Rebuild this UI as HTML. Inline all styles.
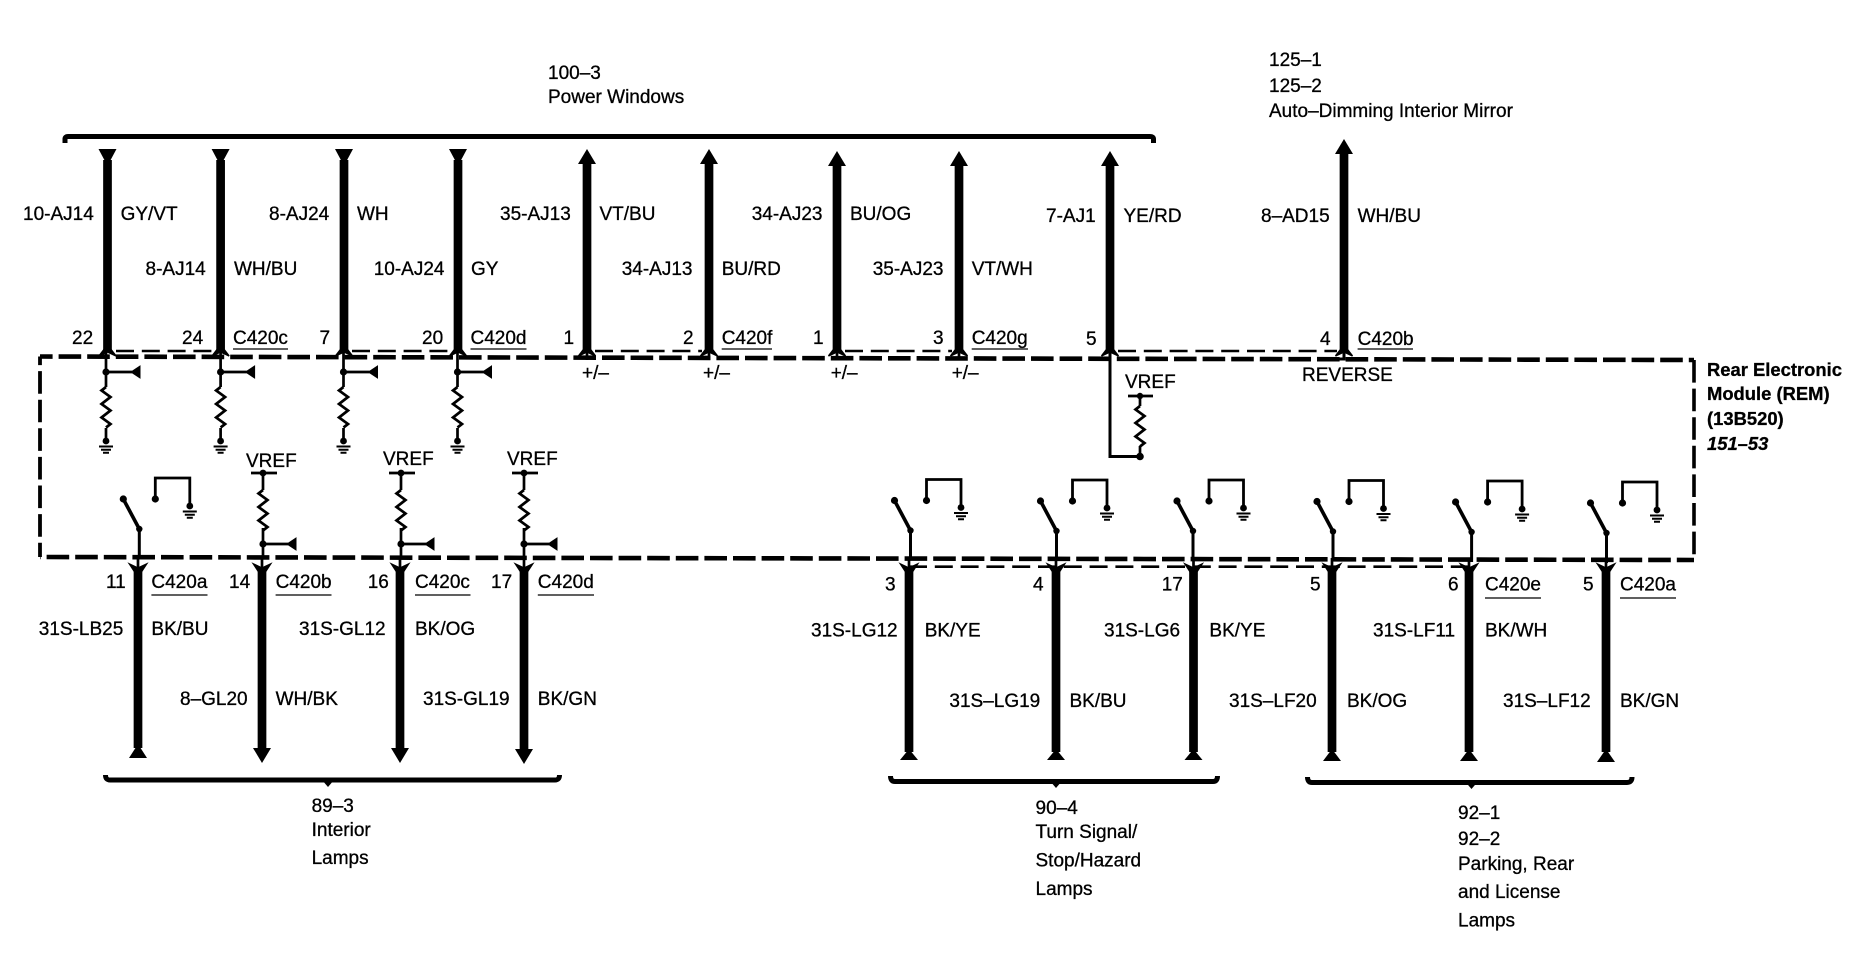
<!DOCTYPE html>
<html>
<head>
<meta charset="utf-8">
<title>Rear Electronic Module wiring diagram</title>
<style>
html,body{margin:0;padding:0;background:#fff}
svg{display:block}
text{font-family:"Liberation Sans",sans-serif;font-size:19px;fill:#000;stroke:#000;stroke-width:.3px}
.b{font-weight:bold;font-size:18.4px}
.bi{font-weight:bold;font-style:italic;font-size:18.4px}
.w{stroke:#000;stroke-width:8.7;fill:none}
.t{stroke:#000;stroke-width:2.7;fill:none}
.u{stroke:#000;stroke-width:1.3;fill:none}
.d{stroke:#000;stroke-width:2.6;fill:none;stroke-dasharray:18 7.8}
.m{stroke:#000;stroke-width:4.6;fill:none;stroke-dasharray:22.6 6;stroke-dashoffset:10}
.br{stroke:#000;stroke-width:5;fill:none}
</style>
</head>
<body>
<svg width="1872" height="960" viewBox="0 0 1872 960" xmlns="http://www.w3.org/2000/svg">
<defs>
  <g id="res"><path class="t" d="M0 0l-4.5 3.5 9 6.5-9 7 9 6.5-9 7 9 6.500-4.500 3.500"/></g>
  <g id="gnd">
    <circle cx="0" cy="0" r="3.4"/>
    <path class="t" d="M-7 5.500H7M-5 8.700H5M-3 11.700H3" style="stroke-width:2"/>
  </g>
  <g id="barb"><path d="M-8.500 356L0 345L8.500 356L0 352Z" fill="#000" stroke="#000" stroke-width="1.500"/></g>
  <g id="stub">
    <path class="t" d="M0 351V387M0 428V442M0 372H26"/>
    <circle cx="0" cy="372" r="3.600"/>
    <path d="M25 372L34 366V378Z" stroke="#000"/>
    <use href="#res" x="0" y="387"/>
    <use href="#gnd" x="0" y="441"/>
  </g>
  <g id="vref">
    <path class="t" d="M-12 473H14M0 473V490M0 528V558M0 544H25"/>
    <circle cx="0" cy="473" r="3.400"/>
    <circle cx="0" cy="544" r="3.600"/>
    <path d="M24 544L33 538V550Z" stroke="#000"/>
    <use href="#res" x="0" y="490"/>
  </g>
  <g id="sw">
    <path class="t" d="M0 0V30" style="stroke-width:3"/>
    <path d="M-16 -30L0 0" stroke="#000" stroke-width="3.600" fill="none"/>
    <circle cx="-16" cy="-30" r="3.600"/>
    <circle cx="0" cy="0" r="3.200"/>
    <circle cx="16" cy="-30" r="3.600"/>
    <path class="t" d="M16 -30V-51H50.500V-23" style="stroke-width:2.800"/>
    <use href="#gnd" x="50.500" y="-23"/>
  </g>
  <g id="vd"><path d="M-8.500 564L0 577L8.500 564L0 568Z" fill="#000" stroke="#000" stroke-width="1.500"/><path class="t" d="M0 558V572"/></g>
</defs>

<!-- module boundary -->
<path class="m" d="M40 356.500L1694 360"/>
<path class="m" d="M1694 360V560" style="stroke-width:3.600;stroke-dashoffset:0"/>
<path class="m" d="M40 557L1694 560" style="stroke-dashoffset:22"/>
<path class="m" d="M40 356.500V557" style="stroke-width:3.800;stroke-dashoffset:14"/>

<!-- top bracket -->
<path class="br" d="M65 143V139Q65 136.500 68 136.500H1150Q1153.500 136.500 1153.500 139V143" style="stroke-width:5"/>

<!-- top wires, output down triangles -->
<path class="w" d="M107.500 160V351M220.600 160V351M344 160V351M458 160V351"/>
<path d="M98.500 149H116.500L109 163H106Z"/>
<path d="M211.600 149H229.600L222 163H219Z"/>
<path d="M335 149H353L345.500 163H342.500Z"/>
<path d="M449 149H467L459.500 163H456.500Z"/>
<!-- top wires, up arrows -->
<path class="w" d="M587 160V351M709 160V351M837 162V351M959 162V351M1110 162V351M1344 150V351"/>
<path d="M587 149L596 164H578Z"/>
<path d="M709 149L718 164H700Z"/>
<path d="M837 151L846 166H828Z"/>
<path d="M959 151L968 166H950Z"/>
<path d="M1110 151L1119 166H1101Z"/>
<path d="M1344 139L1353 154H1335Z"/>
<use href="#barb" x="107.500"/><use href="#barb" x="220.600"/><use href="#barb" x="344"/><use href="#barb" x="458"/>
<use href="#barb" x="587"/><use href="#barb" x="709"/><use href="#barb" x="837"/><use href="#barb" x="959"/>
<use href="#barb" x="1110"/><use href="#barb" x="1344"/>
<path class="t" d="M587 351V360M709 351V360M837 351V360M959 351V360"/>
<path class="t" d="M1344 351V359H1318" style="stroke-width:3"/>

<!-- inner dashed links -->
<path class="d" d="M116 351H214M352 351H452M595 351H702M845 351H952M1118 351H1337"/>
<path class="d" d="M909 566.700H1469"/>

<!-- pull-down stubs -->
<use href="#stub" x="106"/><use href="#stub" x="220.600"/><use href="#stub" x="343.500"/><use href="#stub" x="457.500"/>

<!-- VREF loop on pin 5 -->
<path class="t" d="M1110 351V456.500H1140" style="stroke-width:3"/>
<path class="t" d="M1128 396H1153M1140 396V406M1140 446V456.500"/>
<circle cx="1140" cy="396" r="3.200"/>
<circle cx="1140" cy="456.500" r="3.800"/>
<use href="#res" x="1140" y="406"/>

<!-- lower left VREF circuits -->
<use href="#vref" x="263"/><use href="#vref" x="401"/><use href="#vref" x="524"/>

<!-- switches -->
<use href="#sw" x="139.300" y="529"/>
<use href="#sw" x="910.500" y="530.500"/>
<use href="#sw" x="1056.500" y="531"/>
<use href="#sw" x="1193" y="531"/>
<use href="#sw" x="1333" y="531.500"/>
<use href="#sw" x="1471.600" y="532"/>
<use href="#sw" x="1606.500" y="533"/>

<!-- lower wires -->
<path class="w" d="M138 568V748M262 568V750M400 568V750M524 568V750"/>
<path class="w" d="M909 568V752M1056 568V752M1193.500 568V752M1332 568V752M1469 568V752M1606 568V752"/>
<use href="#vd" x="138"/><use href="#vd" x="262"/><use href="#vd" x="400"/><use href="#vd" x="524"/>
<use href="#vd" x="909"/><use href="#vd" x="1056"/><use href="#vd" x="1193.500"/><use href="#vd" x="1332"/><use href="#vd" x="1469"/><use href="#vd" x="1606"/>
<!-- lower terminators -->
<path d="M138 744L147 758H129Z"/>
<path d="M262 763L271 748H253Z"/>
<path d="M400 763L409 748H391Z"/>
<path d="M524 764L533 749H515Z"/>
<path d="M909 749L918 760H900Z"/>
<path d="M1056 749L1065 760H1047Z"/>
<path d="M1193.500 749L1202.500 760H1184.500Z"/>
<path d="M1332 749L1341 761H1323Z"/>
<path d="M1469 749L1478 761H1460Z"/>
<path d="M1606 749L1615 762H1597Z"/>

<!-- braces -->
<path class="br" d="M105.500 775Q105.500 780 110 780H555Q559.500 780 559.500 775"/>
<path d="M322 780H334L328 787Z"/>
<path class="br" d="M890.500 776Q890.500 781.500 895 781.500H1213Q1217.500 781.500 1217.500 776"/>
<path d="M1050 781H1062L1056 788Z"/>
<path class="br" d="M1307.500 777Q1307.500 782.500 1312 782.500H1627Q1632 782.500 1632 777"/>
<path d="M1465.500 782H1477.500L1471.500 789Z"/>

<!-- underlines -->
<path class="u" d="M233 349H288M470.500 349H526.500M721.700 349H772M971.700 349H1028M1357.600 349H1413M151.400 595H207.500M275.600 595H331.500M415 595H470.500M537.800 595H594M1485 598H1541M1620 598H1676"/>

<!-- top labels -->
<text x="548" y="79">100–3</text>
<text x="548" y="103">Power Windows</text>
<text x="1269" y="66">125–1</text>
<text x="1269" y="92">125–2</text>
<text x="1269" y="117">Auto–Dimming Interior Mirror</text>

<text x="23" y="220">10-AJ14</text><text x="120.600" y="220">GY/VT</text>
<text x="145.500" y="275">8-AJ14</text><text x="234" y="275">WH/BU</text>
<text x="269" y="220">8-AJ24</text><text x="357" y="220">WH</text>
<text x="373.700" y="275">10-AJ24</text><text x="471" y="275">GY</text>
<text x="500" y="220">35-AJ13</text><text x="599.500" y="220">VT/BU</text>
<text x="621.700" y="275">34-AJ13</text><text x="721.700" y="275">BU/RD</text>
<text x="751.700" y="220">34-AJ23</text><text x="850" y="220">BU/OG</text>
<text x="872.700" y="275">35-AJ23</text><text x="971.700" y="275">VT/WH</text>
<text x="1046" y="222">7-AJ1</text><text x="1123.500" y="222">YE/RD</text>
<text x="1261" y="222">8–AD15</text><text x="1357.600" y="222">WH/BU</text>

<text x="72" y="344">22</text>
<text x="182" y="344">24</text><text x="233" y="344">C420c</text>
<text x="319.500" y="344">7</text>
<text x="422" y="344">20</text><text x="470.500" y="344">C420d</text>
<text x="563.500" y="344">1</text>
<text x="683" y="344">2</text><text x="721.700" y="344">C420f</text>
<text x="813" y="344">1</text>
<text x="933" y="344">3</text><text x="971.700" y="344">C420g</text>
<text x="1086" y="345">5</text>
<text x="1320" y="345">4</text><text x="1357.600" y="345">C420b</text>

<text x="582" y="379">+/–</text>
<text x="703" y="379">+/–</text>
<text x="830.700" y="379">+/–</text>
<text x="951.700" y="379">+/–</text>
<text x="1302" y="381">REVERSE</text>
<text x="1125" y="388">VREF</text>

<text class="b" x="1707" y="376">Rear Electronic</text>
<text class="b" x="1707" y="400">Module (REM)</text>
<text class="b" x="1707" y="425">(13B520)</text>
<text class="bi" x="1707" y="450">151–53</text>

<text x="246" y="467">VREF</text>
<text x="383" y="465">VREF</text>
<text x="507" y="465">VREF</text>

<!-- lower left labels -->
<text x="106" y="588">11</text><text x="151.400" y="588">C420a</text>
<text x="229" y="588">14</text><text x="275.600" y="588">C420b</text>
<text x="367.700" y="588">16</text><text x="415" y="588">C420c</text>
<text x="491" y="588">17</text><text x="537.800" y="588">C420d</text>
<text x="38.800" y="635">31S-LB25</text><text x="151.400" y="635">BK/BU</text>
<text x="299" y="635">31S-GL12</text><text x="415" y="635">BK/OG</text>
<text x="180" y="705">8–GL20</text><text x="275.600" y="705">WH/BK</text>
<text x="423" y="705">31S-GL19</text><text x="537.800" y="705">BK/GN</text>
<text x="311.600" y="812">89–3</text>
<text x="311.600" y="836">Interior</text>
<text x="311.600" y="864">Lamps</text>

<!-- lower right labels -->
<text x="885" y="590.500">3</text>
<text x="1033" y="590.500">4</text>
<text x="1161.700" y="590.500">17</text>
<text x="1310" y="590.500">5</text>
<text x="1448" y="590.500">6</text><text x="1485" y="590.500">C420e</text>
<text x="1583" y="590.500">5</text><text x="1620" y="590.500">C420a</text>
<text x="811" y="636.500">31S-LG12</text><text x="924.700" y="636.500">BK/YE</text>
<text x="1104" y="636.500">31S-LG6</text><text x="1209.400" y="636.500">BK/YE</text>
<text x="1373" y="636.500">31S-LF11</text><text x="1485" y="636.500">BK/WH</text>
<text x="949.400" y="707">31S–LG19</text><text x="1069.500" y="707">BK/BU</text>
<text x="1229" y="707">31S–LF20</text><text x="1347" y="707">BK/OG</text>
<text x="1503" y="707">31S–LF12</text><text x="1620" y="707">BK/GN</text>
<text x="1035.500" y="814">90–4</text>
<text x="1035.500" y="838">Turn Signal/</text>
<text x="1035.500" y="866.500">Stop/Hazard</text>
<text x="1035.500" y="895">Lamps</text>
<text x="1458" y="819">92–1</text>
<text x="1458" y="845">92–2</text>
<text x="1458" y="870">Parking, Rear</text>
<text x="1458" y="898">and License</text>
<text x="1458" y="926.500">Lamps</text>
</svg>
</body>
</html>
